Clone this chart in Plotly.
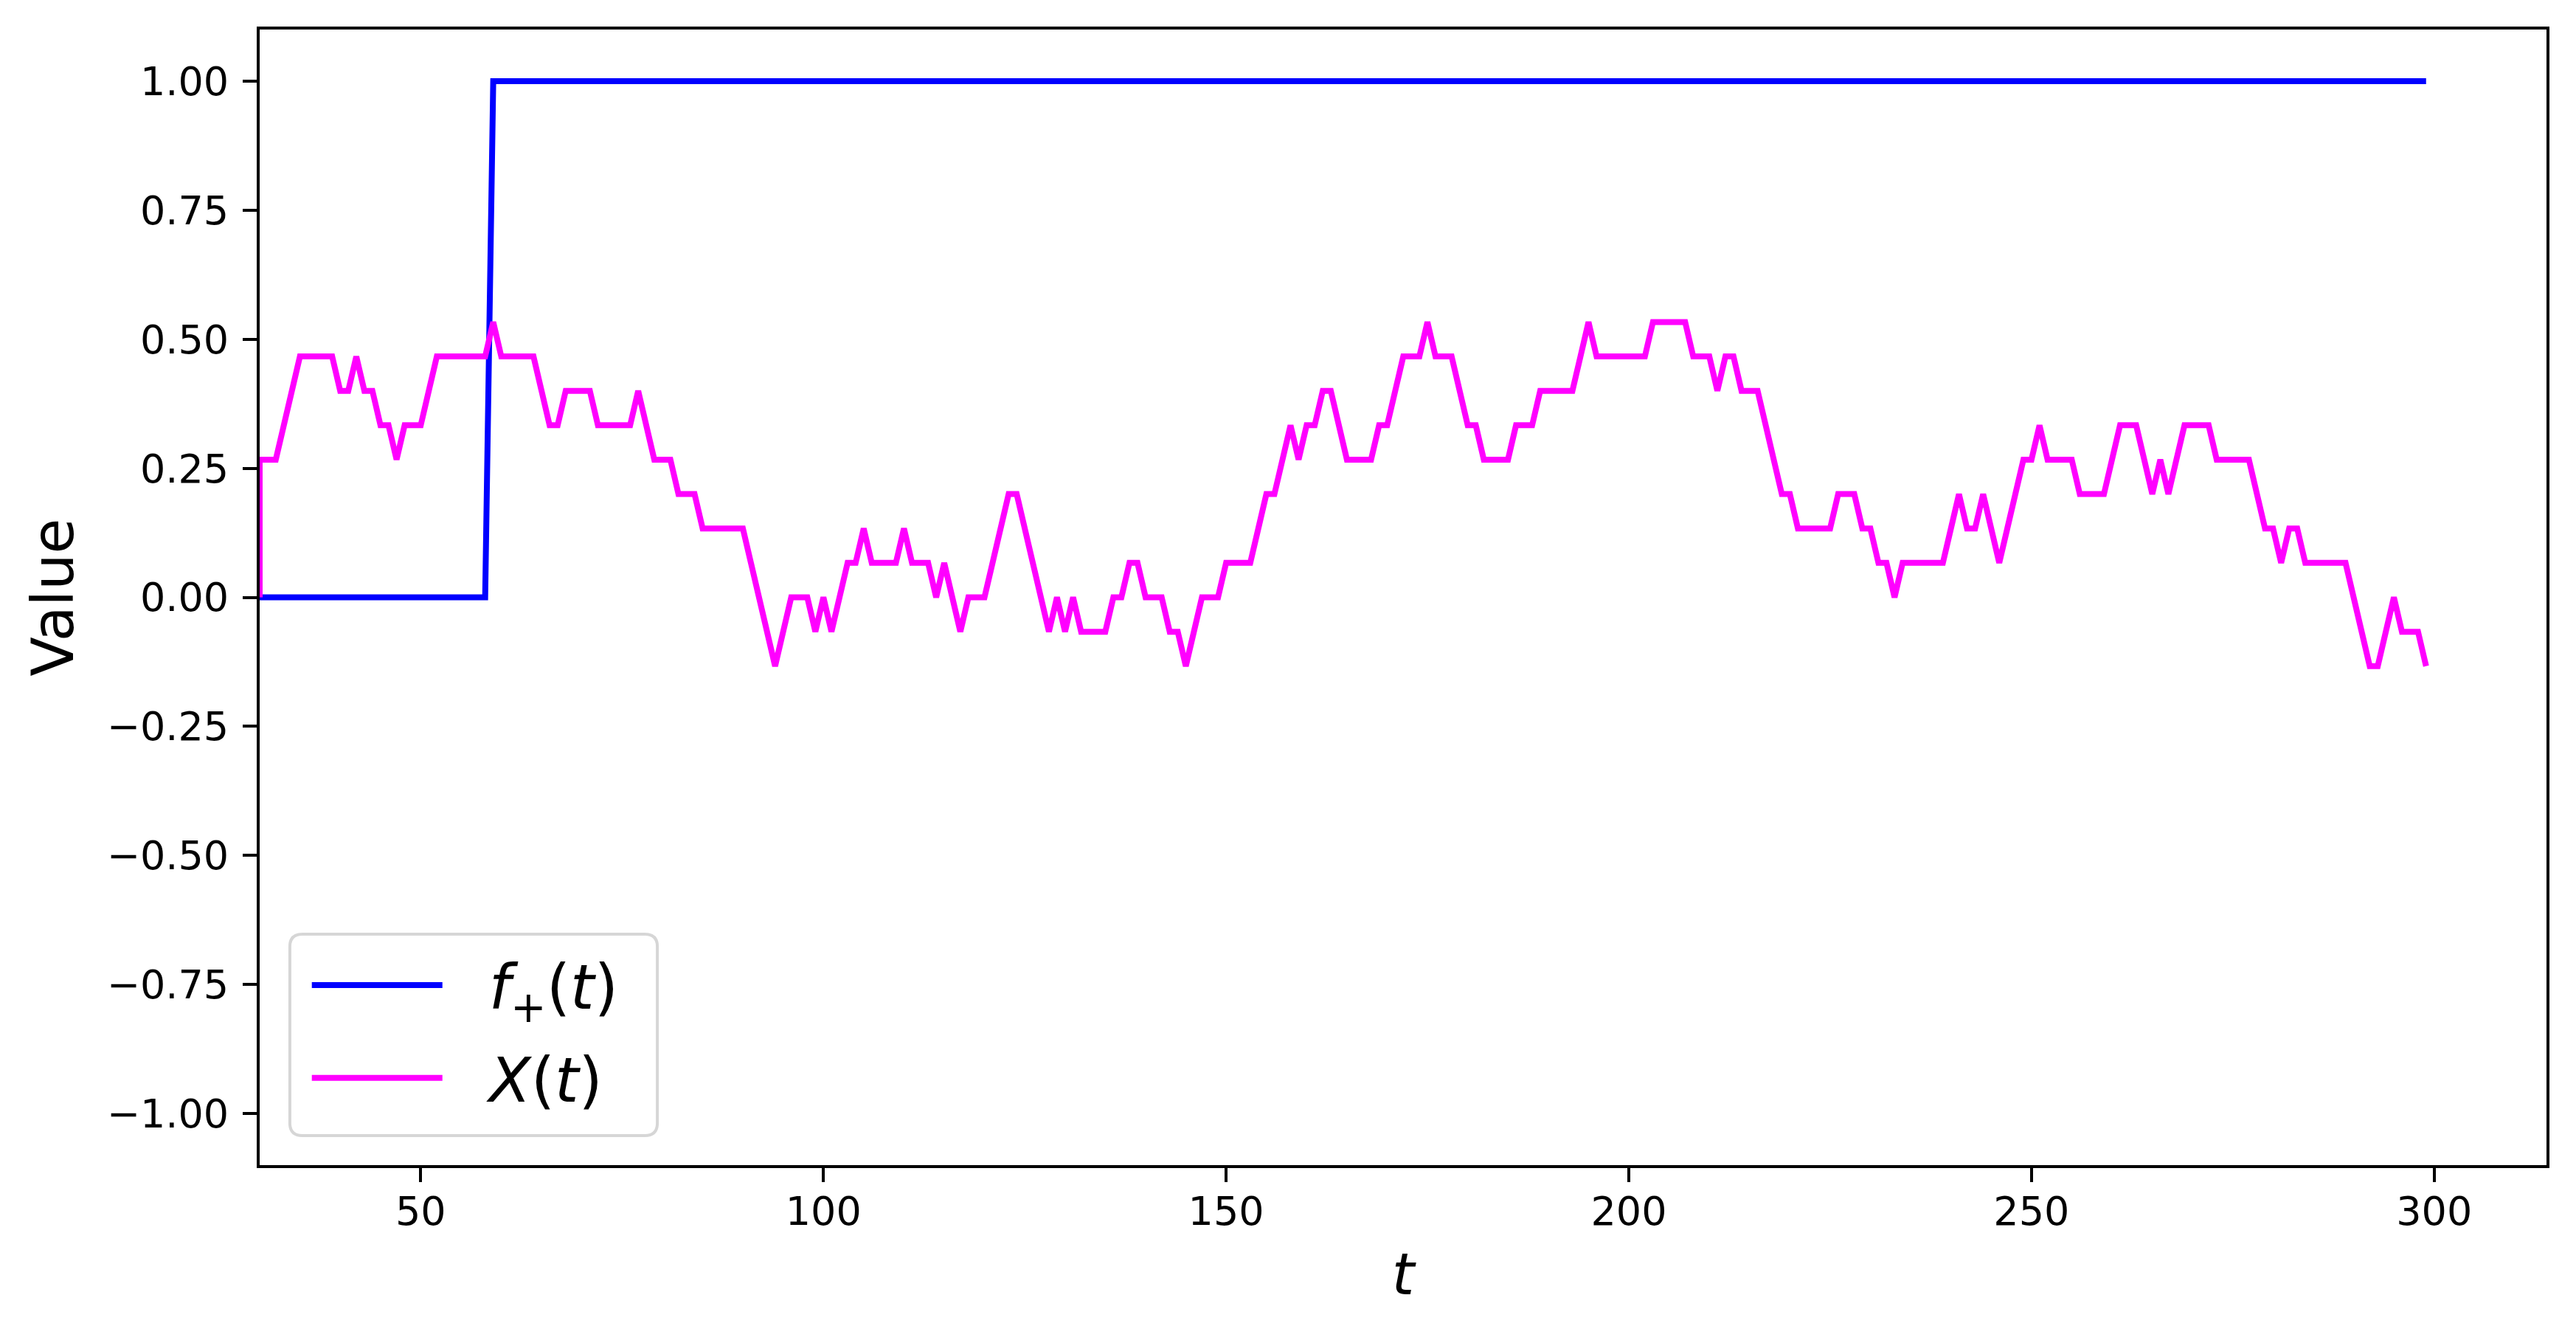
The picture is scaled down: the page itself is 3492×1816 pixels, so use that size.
import plotly.graph_objects as go

# ---- data ----
# X(t) levels for t = 30..299, in units of 1/15
x_levels_15ths = [
    4, 4, 4, 5, 6, 7, 7, 7, 7, 7,        # 30-39
    6, 6, 7, 6, 6, 5, 5, 4, 5, 5,        # 40-49
    5, 6, 7, 7, 7, 7, 7, 7, 7, 8,        # 50-59
    7, 7, 7, 7, 7, 6, 5, 5, 6, 6,        # 60-69
    6, 6, 5, 5, 5, 5, 5, 6, 5, 4,        # 70-79
    4, 4, 3, 3, 3, 2, 2, 2, 2, 2,        # 80-89
    2, 1, 0, -1, -2, -1, 0, 0, 0, -1,    # 90-99
    0, -1, 0, 1, 1, 2, 1, 1, 1, 1,       # 100-109
    2, 1, 1, 1, 0, 1, 0, -1, 0, 0,       # 110-119
    0, 1, 2, 3, 3, 2, 1, 0, -1, 0,       # 120-129
    -1, 0, -1, -1, -1, -1, 0, 0, 1, 1,   # 130-139
    0, 0, 0, -1, -1, -2, -1, 0, 0, 0,    # 140-149
    1, 1, 1, 1, 2, 3, 3, 4, 5, 4,        # 150-159
    5, 5, 6, 6, 5, 4, 4, 4, 4, 5,        # 160-169
    5, 6, 7, 7, 7, 8, 7, 7, 7, 6,        # 170-179
    5, 5, 4, 4, 4, 4, 5, 5, 5, 6,        # 180-189
    6, 6, 6, 6, 7, 8, 7, 7, 7, 7,        # 190-199
    7, 7, 7, 8, 8, 8, 8, 8, 7, 7,        # 200-209
    7, 6, 7, 7, 6, 6, 6, 5, 4, 3,        # 210-219
    3, 2, 2, 2, 2, 2, 3, 3, 3, 2,        # 220-229
    2, 1, 1, 0, 1, 1, 1, 1, 1, 1,        # 230-239
    2, 3, 2, 2, 3, 2, 1, 2, 3, 4,        # 240-249
    4, 5, 4, 4, 4, 4, 3, 3, 3, 3,        # 250-259
    4, 5, 5, 5, 4, 3, 4, 3, 4, 5,        # 260-269
    5, 5, 5, 4, 4, 4, 4, 4, 3, 2,        # 270-279
    2, 1, 2, 2, 1, 1, 1, 1, 1, 1,        # 280-289
    0, -1, -2, -2, -1, 0, -1, -1, -1, -2,  # 290-299
]
x_t = list(range(30, 300))
# the magenta line enters at the left edge from 0
x_entry_t = [30]
x_entry_value = [0.0]

# f_+(t): step from 0 to 1 between t=58 and t=59
f_plus_t = [30, 58, 59, 299]
f_plus_values = [0, 0, 1, 1]

y_tick_vals = [-1.0, -0.75, -0.5, -0.25, 0.0, 0.25, 0.5, 0.75, 1.0]
y_tick_text = ["\u22121.00", "\u22120.75", "\u22120.50", "\u22120.25",
               "0.00", "0.25", "0.50", "0.75", "1.00"]
x_tick_vals = [50, 100, 150, 200, 250, 300]
x_tick_text = ["50", "100", "150", "200", "250", "300"]

series_names = ["<i>f</i><sub>+</sub>(<i>t</i>)", "<i>X</i>(<i>t</i>)"]

# ---- figure ----
X_values = x_entry_value + [k / 15 for k in x_levels_15ths]
X_t = x_entry_t + x_t

FONT = "DejaVu Sans"
PAD = "\u2002\u2009"  # gap between legend line sample and its label

fig = go.Figure()
fig.add_trace(go.Scatter(
    x=f_plus_t, y=f_plus_values, mode="lines",
    line=dict(color="#0000ff", width=8),
    name=PAD + series_names[0], legendgroup="g1",
))
fig.add_trace(go.Scatter(
    x=X_t, y=X_values, mode="lines",
    line=dict(color="#ff00ff", width=8),
    name=PAD + series_names[1], legendgroup="g2",
))

axis_common = dict(
    showgrid=False, zeroline=False,
    showline=True, linecolor="black", linewidth=4, mirror=True,
    ticks="outside", ticklen=19, tickwidth=4, tickcolor="black",
    tickfont=dict(family=FONT, size=54, color="black"),
)

# legend frame (rounded box, like matplotlib's fancybox)
lx0, lx1, ly0, ly1 = 0.0132, 0.1739, 0.026, 0.2034
rx, ry = 0.0055, 0.011
frame_path = (
    f"M{lx0+rx},{ly0} L{lx1-rx},{ly0} Q{lx1},{ly0} {lx1},{ly0+ry} "
    f"L{lx1},{ly1-ry} Q{lx1},{ly1} {lx1-rx},{ly1} "
    f"L{lx0+rx},{ly1} Q{lx0},{ly1} {lx0},{ly1-ry} "
    f"L{lx0},{ly0+ry} Q{lx0},{ly0} {lx0+rx},{ly0} Z"
)

fig.update_layout(
    width=3484, height=1808,
    margin=dict(l=344, r=40, t=32, b=237, pad=0),
    paper_bgcolor="white", plot_bgcolor="white",
    font=dict(family=FONT, color="black"),
    xaxis=dict(
        range=[30, 313.95], tickmode="array",
        tickvals=x_tick_vals, ticktext=x_tick_text, ticklabelstandoff=-7,
        title=dict(text="<i>t</i>", font=dict(family=FONT, size=78), standoff=29),
        **axis_common,
    ),
    yaxis=dict(
        range=[-1.1, 1.1], tickmode="array",
        tickvals=y_tick_vals, ticktext=y_tick_text, ticklabelstandoff=8,
        title=dict(text="Value", font=dict(family=FONT, size=78), standoff=20),
        **axis_common,
    ),
    shapes=[dict(
        type="path", xref="paper", yref="paper", path=frame_path,
        fillcolor="rgba(255,255,255,0.8)",
        line=dict(color="#d6d6d6", width=4), layer="above",
    )],
    legend=dict(
        x=0.0212, y=0.0374, xanchor="left", yanchor="bottom",
        bgcolor="rgba(0,0,0,0)", borderwidth=0,
        font=dict(family=FONT, size=83, color="black"),
        itemwidth=177, traceorder="grouped", tracegroupgap=15,
    ),
    showlegend=True,
)

fig.write_html("out.html")
